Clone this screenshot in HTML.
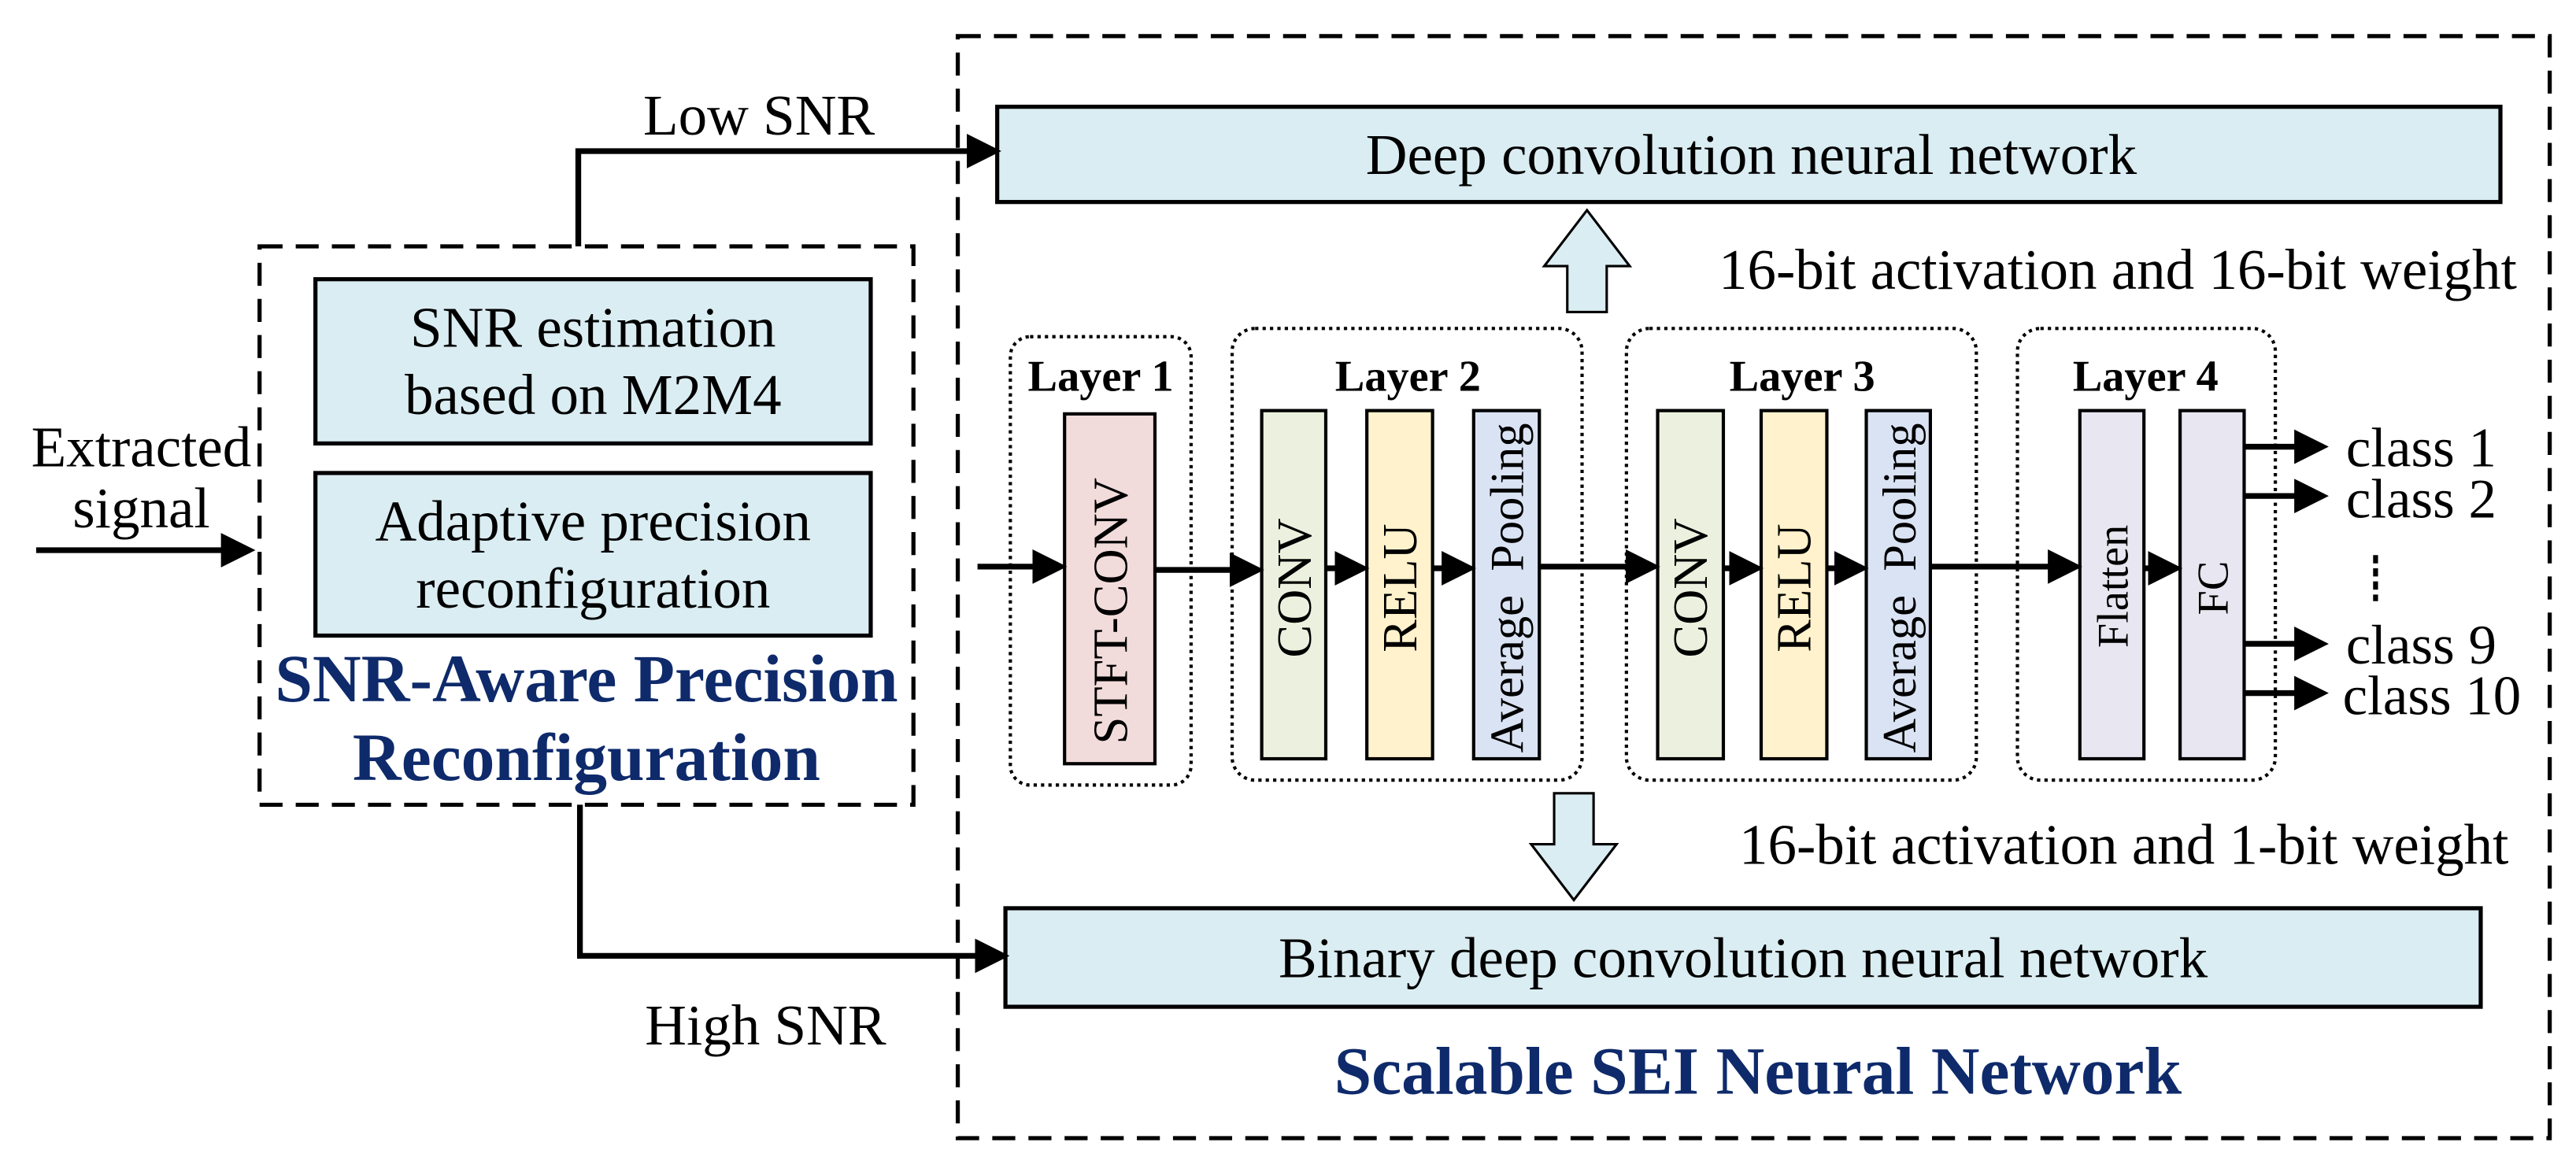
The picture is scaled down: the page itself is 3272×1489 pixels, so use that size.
<!DOCTYPE html>
<html><head><meta charset="utf-8"><style>html,body{margin:0;padding:0;background:#fff}svg{display:block}</style></head><body>
<svg width="3272" height="1489" viewBox="0 0 1568 713.6" preserveAspectRatio="none" xmlns="http://www.w3.org/2000/svg" font-family="Liberation Serif, serif">
<defs>
<marker id="ah" markerWidth="6" markerHeight="6" refX="5" refY="3" orient="auto" markerUnits="strokeWidth"><path d="M0,0 L6,3 L0,6 z" fill="#000"/></marker>
</defs>
<g fill="none" stroke="#000" stroke-width="2.5" stroke-dasharray="14 8">
<rect x="583" y="22" width="969" height="671"/>
<rect x="158" y="150" width="398" height="340"/>
</g>
<g stroke="#000" stroke-width="2.5" fill="#daedf2">
<rect x="607" y="65" width="915" height="58"/>
<rect x="612" y="553" width="898" height="60"/>
<rect x="192" y="170" width="338" height="100"/>
<rect x="192" y="288" width="338" height="99"/>
</g>
<g font-size="35" text-anchor="middle" fill="#000">
<text x="1066" y="106">Deep convolution neural network</text>
<text x="1061" y="595">Binary deep convolution neural network</text>
<text x="361" y="211">SNR estimation</text>
<text x="361" y="252">based on M2M4</text>
<text x="361" y="329">Adaptive precision</text>
<text x="361" y="370">reconfiguration</text>
<text x="86" y="284">Extracted</text>
<text x="86" y="321">signal</text>
<text x="462" y="82">Low SNR</text>
<text x="466" y="636">High SNR</text>
</g>
<g font-size="35" text-anchor="end" fill="#000">
<text x="1532" y="176">16-bit activation and 16-bit weight</text>
<text x="1527" y="526">16-bit activation and 1-bit weight</text>
</g>
<g font-size="41" font-weight="bold" fill="#0e2a6b" text-anchor="middle">
<text x="357" y="427">SNR-Aware Precision</text>
<text x="357" y="475">Reconfiguration</text>
<text x="1070" y="666">Scalable SEI Neural Network</text>
</g>
<g stroke="#000" stroke-width="3.5" fill="none" marker-end="url(#ah)">
<line x1="22" y1="335" x2="152" y2="335"/>
<polyline points="352,150 352,92 606,92"/>
<polyline points="353,490 353,582 611,582"/>
</g>
<g fill="#daedf2" stroke="#000" stroke-width="1.5">
<path d="M954,190 L954,162 L940,162 L966,128 L992,162 L978,162 L978,190 Z"/>
<path d="M946,483 L970,483 L970,514 L984,514 L958,548 L932,514 L946,514 Z"/>
</g>
<g fill="none" stroke="#000" stroke-width="2" stroke-dasharray="2 2.5">
<rect x="615" y="205" width="110" height="273" rx="12"/>
<rect x="750" y="200" width="213" height="275" rx="14"/>
<rect x="990" y="200" width="213" height="275" rx="14"/>
<rect x="1228" y="200" width="157" height="275" rx="14"/>
</g>
<g font-size="27" font-weight="bold" text-anchor="middle">
<text x="670" y="238">Layer 1</text>
<text x="857" y="238">Layer 2</text>
<text x="1097" y="238">Layer 3</text>
<text x="1306" y="238">Layer 4</text>
</g>
<g stroke="#000" stroke-width="2">
<rect x="648" y="252" width="55" height="213" fill="#f2dcdb"/>
<rect x="768" y="250" width="39" height="212" fill="#ebf1de"/>
<rect x="832" y="250" width="40" height="212" fill="#fff2cc"/>
<rect x="897" y="250" width="40" height="212" fill="#dae3f3"/>
<rect x="1009" y="250" width="40" height="212" fill="#ebf1de"/>
<rect x="1072" y="250" width="40" height="212" fill="#fff2cc"/>
<rect x="1136" y="250" width="39" height="212" fill="#dae3f3"/>
<rect x="1266" y="250" width="39" height="212" fill="#e8e6f0"/>
<rect x="1327" y="250" width="39" height="212" fill="#e8e6f0"/>
</g>
<g font-size="30" text-anchor="middle" fill="#000">
<text transform="translate(686,372) rotate(-90)">STFT-CONV</text>
<text transform="translate(798,358) rotate(-90)">CONV</text>
<text transform="translate(862,358) rotate(-90)">RELU</text>
<text transform="translate(927,358) rotate(-90)" xml:space="preserve" font-size="29">Average  Pooling</text>
<text transform="translate(1039,358) rotate(-90)">CONV</text>
<text transform="translate(1102,358) rotate(-90)">RELU</text>
<text transform="translate(1166,358) rotate(-90)" xml:space="preserve" font-size="29">Average  Pooling</text>
<text transform="translate(1295,357) rotate(-90)" font-size="27">Flatten</text>
<text transform="translate(1356,358) rotate(-90)" font-size="27">FC</text>
</g>
<g stroke="#000" stroke-width="3.5" marker-end="url(#ah)">
<line x1="595" y1="345" x2="646" y2="345"/>
<line x1="703" y1="347" x2="766" y2="347"/>
<line x1="807" y1="346" x2="830" y2="346"/>
<line x1="872" y1="346" x2="895" y2="346"/>
<line x1="937" y1="345" x2="1007" y2="345"/>
<line x1="1049" y1="346" x2="1070" y2="346"/>
<line x1="1112" y1="346" x2="1134" y2="346"/>
<line x1="1175" y1="345" x2="1264" y2="345"/>
<line x1="1305" y1="346" x2="1325" y2="346"/>
<line x1="1366" y1="272" x2="1414" y2="272"/>
<line x1="1366" y1="302" x2="1414" y2="302"/>
<line x1="1366" y1="392" x2="1414" y2="392"/>
<line x1="1366" y1="422" x2="1414" y2="422"/>
</g>
<line x1="1446" y1="338" x2="1446" y2="366" stroke="#000" stroke-width="3" stroke-dasharray="5 3"/>
<g font-size="34" fill="#000">
<text x="1428" y="284">class 1</text>
<text x="1428" y="315">class 2</text>
<text x="1428" y="404">class 9</text>
<text x="1426" y="435">class 10</text>
</g>
</svg>
</body></html>
